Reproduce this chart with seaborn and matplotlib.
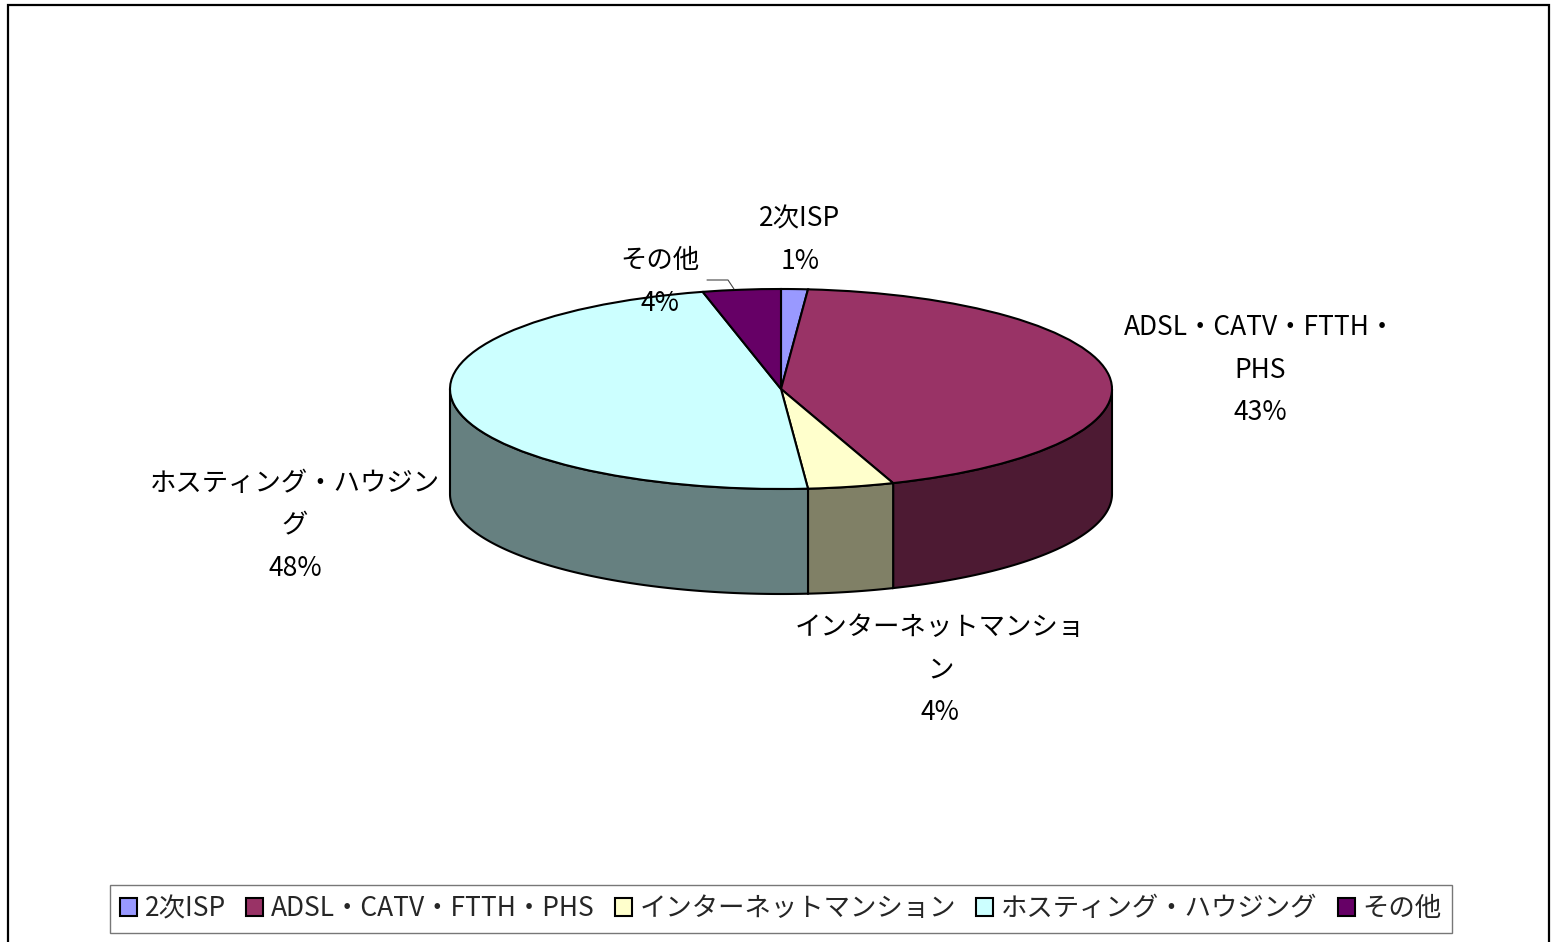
import numpy as np
import matplotlib
matplotlib.use('Agg')
import matplotlib.pyplot as plt
from matplotlib.colors import to_rgb
from matplotlib.patches import Rectangle
from matplotlib.lines import Line2D
import seaborn as sns

# data
categories = ['2次ISP', 'ADSL・CATV・FTTH・PHS', 'インターネットマンション',
              'ホスティング・ハウジング', 'その他']
label_lines = ['2次ISP', 'ADSL・CATV・FTTH・\nPHS', 'インターネットマンショ\nン',
               'ホスティング・ハウジン\nグ', 'その他']
shares = [1.3, 43.2, 4.2, 47.5, 3.8]
colors = ['#9999FF', '#993366', '#FFFFCC', '#CCFFFF', '#660066']

sns.set_theme(style='white')
plt.rcParams['font.family'] = ['Noto Sans CJK JP', 'DejaVu Sans']

W, H = 1553, 942
fig = plt.figure(figsize=(W / 100, H / 100), dpi=100)
ax = fig.add_axes([0, 0, 1, 1])

# pie geometry in pixels: centre, radii of the top ellipse, thickness
cx, cy, rx, ry, depth = 781, 389, 331, 100, 105
d = depth / ry

# side walls (front half only), darker shade of each slice colour
side = [tuple(np.array(to_rgb(c)) * 0.5) for c in colors]
bounds = 90 - 3.6 * np.concatenate([[0], np.cumsum(shares)])
for i in range(len(shares)):
    lo, hi = max(bounds[i + 1], -180), min(bounds[i], 0)
    if lo >= hi:
        continue
    t = np.radians(np.linspace(lo, hi, 200))
    xs = np.concatenate([np.cos(t), np.cos(t[::-1])])
    ys = np.concatenate([np.sin(t), np.sin(t[::-1]) - d])
    ax.fill(xs, ys, facecolor=side[i], edgecolor='black', linewidth=1.5)

# top face
wedges, _ = ax.pie(shares, colors=colors, startangle=90, counterclock=False, radius=1,
                   wedgeprops=dict(edgecolor='black', linewidth=1.5))
ax.set_aspect('auto')
ax.set_xlim((0 - cx) / rx, (W - cx) / rx)
ax.set_ylim((cy - H) / ry, cy / ry)
ax.axis('off')

# data labels (same order as categories)
label_pos = [(800, 240), (1260, 370), (940, 670), (295, 526), (660, 282)]
for lab, s, (x, y) in zip(label_lines, shares, label_pos):
    fig.text(x / W, 1 - y / H, f'{lab}\n{s:.0f}%', ha='center', va='center',
             fontsize=19, linespacing=1.75, color='black')

# leader line for その他
fig.add_artist(Line2D([707 / W, 728 / W, 734 / W], [1 - 280 / H, 1 - 280 / H, 1 - 289 / H],
                      color='#444444', linewidth=0.8))

leg = ax.legend(wedges, categories, loc='center', bbox_to_anchor=(781 / W, 1 - 909 / H),
                bbox_transform=fig.transFigure, ncol=5, fontsize=19, frameon=True,
                fancybox=False, edgecolor='#555555', handlelength=0.65, handleheight=0.65,
                handletextpad=0.3, columnspacing=0.75, borderpad=0.4, borderaxespad=0)
leg.get_frame().set_linewidth(1)

# chart area border
fig.add_artist(Rectangle((8 / W, -0.05), (1549 - 8) / W, 1 - 5 / H + 0.05,
                         transform=fig.transFigure, fill=False, edgecolor='black', linewidth=1.6))

fig.savefig('out.png', dpi=100)
